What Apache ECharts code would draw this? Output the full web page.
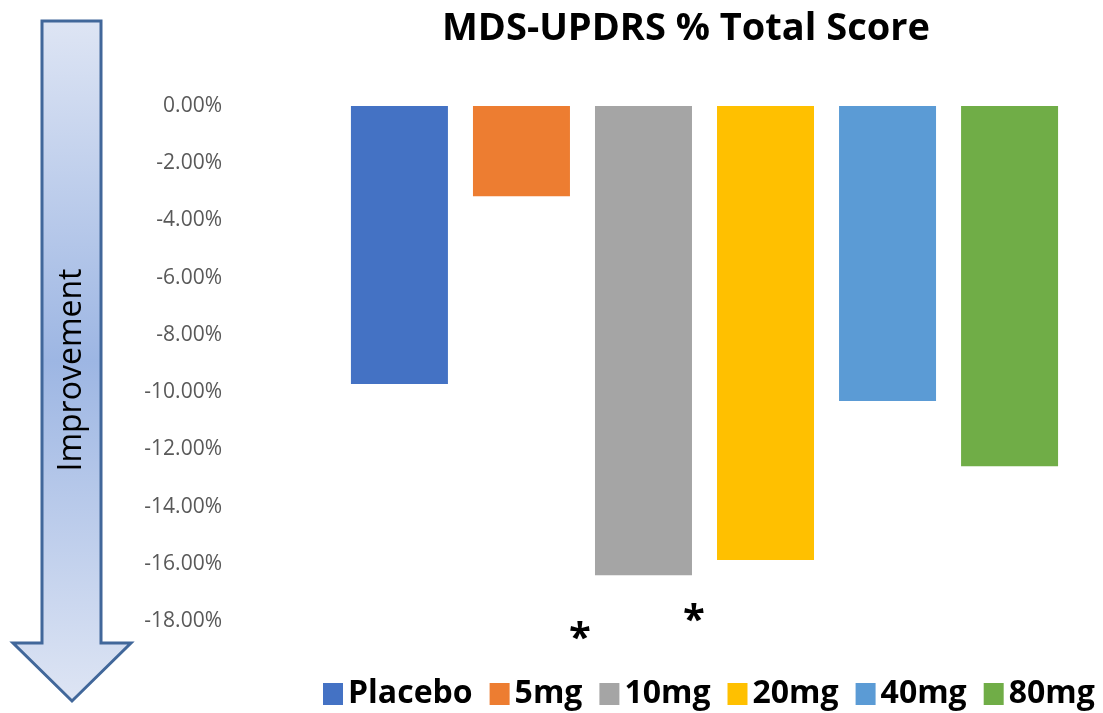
<!DOCTYPE html>
<html>
<head>
<meta charset="utf-8">
<script src="https://cdn.jsdelivr.net/npm/echarts@6/dist/echarts.min.js"></script>
<style>
  html, body { margin: 0; padding: 0; background: #fff; }
  #chart { width: 1103px; height: 713px; }
</style>
</head>
<body>
<div id="chart"></div>
<script>
// doses shown in the legend
const groups = ['Placebo', '5mg', '10mg', '20mg', '40mg', '80mg']
// % change in total score
const scores = [-9.72, -3.15, -16.40, -15.87, -10.31, -12.59]
const colors = ['#4472C4', '#ED7D31', '#A5A5A5', '#FFC000', '#5B9BD5', '#70AD47']
// y axis range (percent)
const yMin = -18
const yMax = 0
const yStep = 2

const chart = echarts.init(document.getElementById('chart'))

const series = groups.map((name, i) => ({
  name: name,
  type: 'bar',
  data: [scores[i]],
  barWidth: 97,
  barGap: '25.8%',
  itemStyle: { color: colors[i] },
}))

chart.setOption({
  animation: false,
  title: {
    text: 'MDS-UPDRS % Total Score',
    left: 681,
    top: 5,
    textAlign: 'center',
    textStyle: { fontFamily: 'Open Sans', fontWeight: 'bold', fontSize: 38, color: '#000' },
  },
  legend: {
    left: 318,
    bottom: -2,
    icon: 'rect',
    itemWidth: 20,
    itemHeight: 22,
    itemGap: 17,
    textStyle: { fontFamily: 'Open Sans', fontWeight: 'bold', fontSize: 32, color: '#000' },
    data: groups,
  },
  grid: { left: 340, right: 34, top: 106, bottom: 92 },
  xAxis: {
    type: 'category',
    data: [''],
    show: false,
  },
  yAxis: {
    type: 'value',
    min: yMin,
    max: yMax,
    interval: yStep,
    axisLine: { show: false },
    axisTick: { show: false },
    splitLine: { show: false },
    axisLabel: {
      margin: 118,
      fontFamily: 'Open Sans',
      fontSize: 21,
      color: '#595959',
      formatter: (v) => v.toFixed(2) + '%',
    },
  },
  series: series,
  graphic: [
    {
      type: 'polygon',
      shape: {
        points: [[42, 21], [101, 21], [101, 643], [131, 643], [72, 701], [13, 643], [42, 643]],
      },
      style: {
        fill: new echarts.graphic.LinearGradient(0, 0, 0, 1, [
          { offset: 0, color: '#DEE5F4' },
          { offset: 0.5, color: '#9DB6E3' },
          { offset: 1, color: '#DEE5F4' },
        ]),
        stroke: '#41679A',
        lineWidth: 3,
      },
    },
    {
      type: 'text',
      x: 72,
      y: 370,
      rotation: Math.PI / 2,
      style: {
        text: 'Improvement',
        fontFamily: 'Open Sans',
        fontSize: 32,
        fill: '#000',
        align: 'center',
        verticalAlign: 'middle',
      },
    },
    {
      type: 'text',
      x: 580,
      y: 640,
      style: { text: '*', fontFamily: 'Open Sans', fontWeight: 'bold', fontSize: 40, fill: '#000', align: 'center', verticalAlign: 'middle' },
    },
    {
      type: 'text',
      x: 694,
      y: 622,
      style: { text: '*', fontFamily: 'Open Sans', fontWeight: 'bold', fontSize: 40, fill: '#000', align: 'center', verticalAlign: 'middle' },
    },
  ],
})
</script>
</body>
</html>
